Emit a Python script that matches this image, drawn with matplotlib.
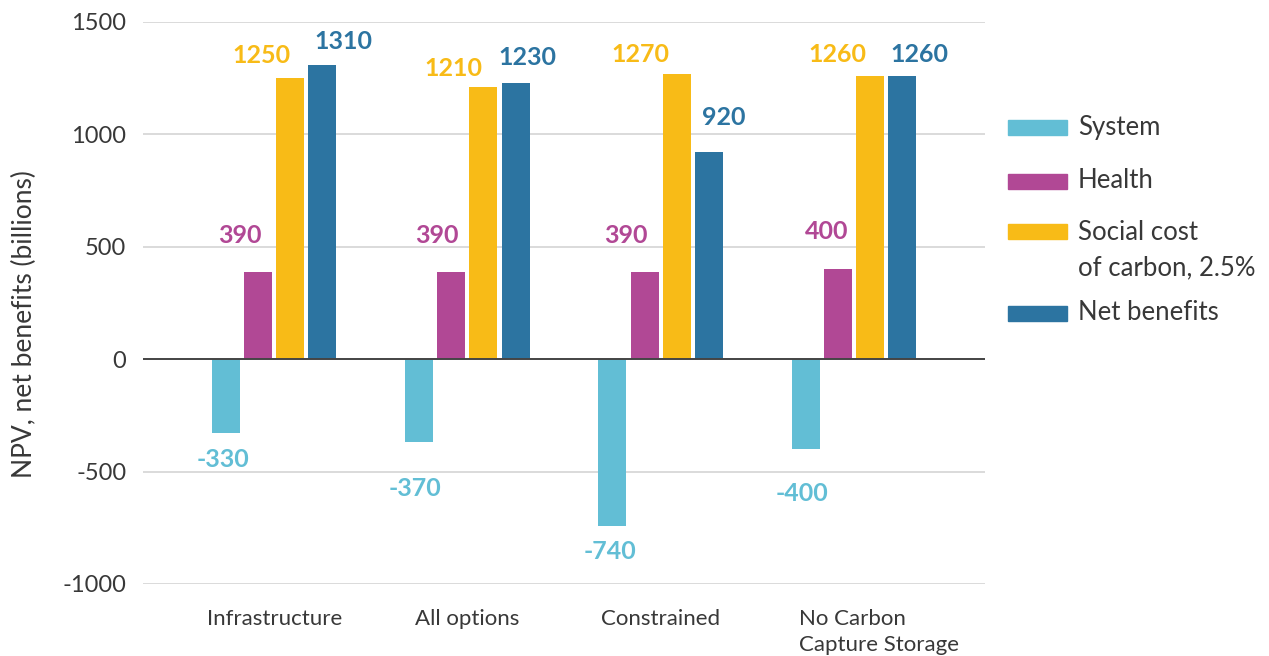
import numpy as np
import matplotlib
matplotlib.use("Agg")
import matplotlib.pyplot as plt
from matplotlib.patches import Rectangle
from matplotlib.transforms import offset_copy, ScaledTranslation

# Scenario categories and NPV components (billions)
categories = ["Infrastructure", "All options", "Constrained", "No Carbon\nCapture Storage"]
series_names = ["System", "Health", "Social cost\nof carbon, 2.5%", "Net benefits"]
system = [-330, -370, -740, -400]
health = [390, 390, 390, 400]
social_cost = [1250, 1210, 1270, 1260]
net_benefits = [1310, 1230, 920, 1260]
yticks = [-1000, -500, 0, 500, 1000, 1500]

colors = ["#62bed5", "#b14895", "#f8bb17", "#2c74a1"]
text_color = "#383838"

# Pixel offsets (dx, dy) of each value label from its bar end
label_offsets = [
    [(-3, -26), (-4, -46), (-2, -26), (-4, -44)],
    [(-18, 36), (-15, 36), (-19, 36), (-11, 38)],
    [(-29, 23), (-30, 19), (-36, 19), (-32, 21)],
    [(21, 23), (12, 25), (15, 35), (18, 21)],
]

plt.rcParams["font.family"] = ["Lato", "DejaVu Sans"]

W, H = 1269, 656
fig = plt.figure(figsize=(W / 100, H / 100), dpi=100)
ax = fig.add_axes([143 / W, (H - 584) / H, (985 - 143) / W, (584 - 22) / H])

values = [system, health, social_cost, net_benefits]
x = np.arange(len(categories))
step = 0.166
width = 0.145

for i, (vals, col) in enumerate(zip(values, colors)):
    pos = x + (i - 1.5) * step
    ax.bar(pos, vals, width=width, color=col, zorder=3)
    for j, (p, v) in enumerate(zip(pos, vals)):
        dx, dy = label_offsets[i][j]
        tr = offset_copy(ax.transData, fig=fig, x=dx, y=dy, units="dots")
        ax.text(p, v, f"{v}", transform=tr, ha="center", va="center",
                fontsize=18, fontweight="bold", color=col, zorder=4)

ax.set_xlim(-0.68, 3.68)
ax.set_ylim(-1000, 1500)
ax.set_yticks(yticks)
ax.set_yticklabels([str(t) for t in yticks])
ax.grid(axis="y", color="#d4d4d4", linewidth=1.2, zorder=0)
ax.axhline(0, color="#444444", linewidth=1.4, zorder=4)
for s in ax.spines.values():
    s.set_visible(False)
ax.tick_params(axis="both", length=0, labelcolor=text_color)
ax.tick_params(axis="y", pad=12, labelsize=17)
ax.tick_params(axis="x", pad=18, labelsize=16)
ax.set_xticks(x)
ax.set_xticklabels(categories, va="top")
last = ax.get_xticklabels()[-1]
last.set_multialignment("left")
last.set_horizontalalignment("left")
last.set_linespacing(1.35)
last.set_transform(last.get_transform() + ScaledTranslation(-55 / 100, 0, fig.dpi_scale_trans))

ax.set_ylabel("NPV, net benefits (billions)", fontsize=19, color=text_color)
ax.yaxis.set_label_coords(-(143 - 37) / (985 - 143), (584 - 324) / (584 - 22))

# Legend
legend_y = [127, 181, 231, 313]
for name, col, ly in zip(series_names, colors, legend_y):
    fig.patches.append(Rectangle((1008 / W, (H - ly - 7.5) / H), 59 / W, 15 / H,
                                 transform=fig.transFigure, color=col))
    multiline = "\n" in name
    fig.text(1078 / W, (H - ly + (11 if multiline else 0)) / H, name, fontsize=18.5,
             color=text_color, va="top" if multiline else "center",
             linespacing=1.5)

fig.savefig("out.png", dpi=100)
